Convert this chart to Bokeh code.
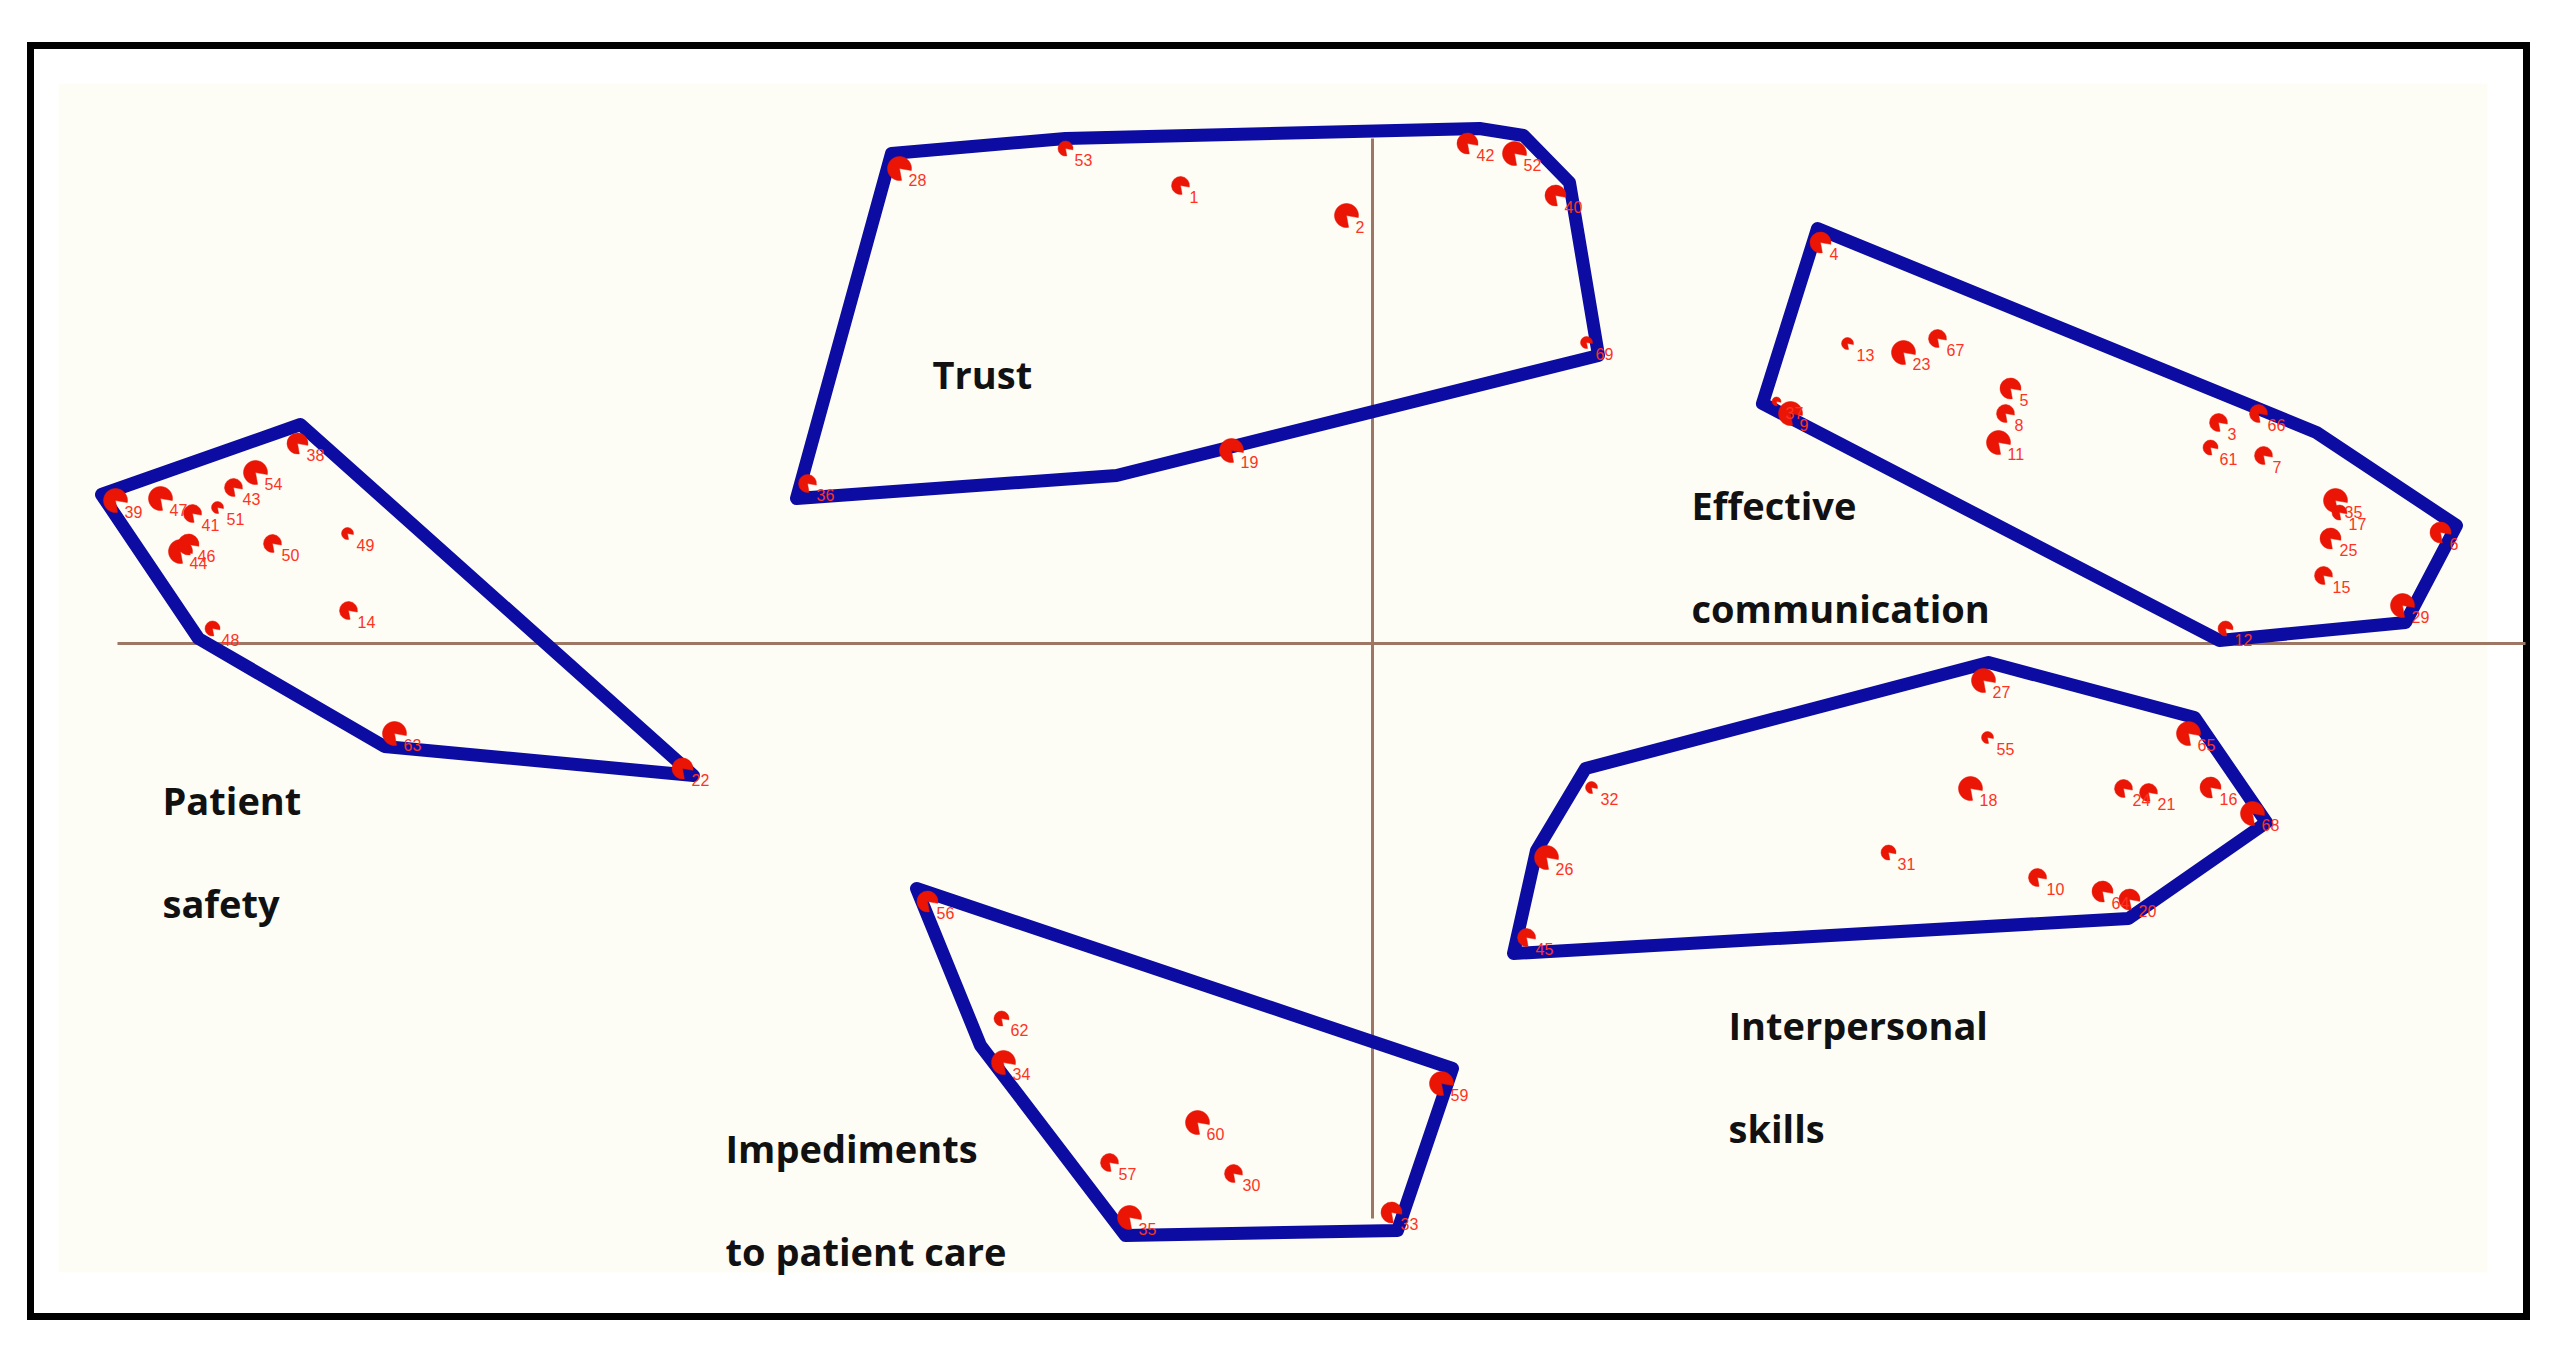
import math
from bokeh.plotting import figure
from bokeh.models import ColumnDataSource, Range1d
from bokeh.core.properties import value
from bokeh.embed import file_html
from bokeh.resources import INLINE

# ---------------- DATA (two-dimensional concept map) ----------------
# Trust
trust_ids = ["28", "53", "1", "2", "42", "52", "40", "69", "19", "36"]
trust_x = [-4.73, -3.07, -1.92, -0.26, 0.95, 1.42, 1.83, 2.14, -1.41, -5.65]
trust_y = [4.75, 4.95, 4.58, 4.28, 5.00, 4.90, 4.48, 3.01, 1.93, 1.60]
trust_w = [5, 2, 3, 5, 4, 5, 4, 1, 5, 3]
trust_hull_x = [-4.81, -3.07, 1.07, 1.51, 1.97, 2.26, -2.56, -5.76]
trust_hull_y = [4.90, 5.05, 5.15, 5.08, 4.61, 2.88, 1.68, 1.45]

# Patient safety
safety_ids = ["39", "47", "41", "51", "43", "54", "44", "46", "50", "49", "14", "48", "38", "63", "22"]
safety_x = [-12.57, -12.12, -11.80, -11.55, -11.39, -11.17, -11.92, -11.84, -11.00, -10.25, -10.24, -11.60, -10.75, -9.78, -6.90]
safety_y = [1.43, 1.45, 1.30, 1.36, 1.56, 1.71, 0.92, 0.99, 1.00, 1.10, 0.33, 0.15, 2.00, -0.90, -1.25]
safety_w = [5, 5, 3, 1, 3, 5, 5, 4, 3, 1, 3, 2, 4, 5, 4]
safety_hull_x = [-10.72, -12.71, -11.74, -9.88, -6.79]
safety_hull_y = [2.19, 1.49, 0.05, -1.03, -1.32]

# Effective communication
comm_ids = ["4", "13", "23", "67", "37", "9", "5", "8", "11", "3", "66", "61", "7", "35", "17", "25", "15", "6", "29", "12"]
comm_x = [4.48, 4.75, 5.31, 5.65, 4.04, 4.18, 6.38, 6.33, 6.26, 8.46, 8.86, 8.38, 8.91, 9.63, 9.67, 9.58, 9.51, 10.68, 10.30, 8.53]
comm_y = [4.01, 3.00, 2.91, 3.05, 2.42, 2.30, 2.55, 2.30, 2.01, 2.21, 2.30, 1.96, 1.88, 1.43, 1.31, 1.05, 0.68, 1.11, 0.38, 0.15]
comm_w = [4, 1, 5, 3, 0, 5, 4, 3, 5, 3, 3, 2, 3, 5, 2, 4, 3, 4, 5, 2]
comm_hull_x = [4.45, 3.90, 8.47, 10.33, 10.84, 9.44]
comm_hull_y = [4.15, 2.40, 0.03, 0.21, 1.18, 2.11]

# Interpersonal skills
inter_ids = ["27", "55", "65", "32", "18", "24", "21", "16", "68", "26", "31", "10", "64", "20", "45"]
inter_x = [6.11, 6.15, 8.16, 2.19, 5.98, 7.51, 7.76, 8.38, 8.80, 1.74, 5.16, 6.65, 7.30, 7.57, 1.54]
inter_y = [-0.37, -0.94, -0.90, -1.44, -1.45, -1.45, -1.49, -1.44, -1.70, -2.14, -2.09, -2.34, -2.48, -2.56, -2.94]
inter_w = [5, 1, 5, 1, 5, 3, 3, 4, 5, 5, 2, 3, 4, 4, 3]
inter_hull_x = [6.16, 8.22, 8.94, 7.56, 1.41, 1.64, 2.13]
inter_hull_y = [-0.19, -0.74, -1.79, -2.75, -3.10, -2.07, -1.25]

# Impediments to patient care
imped_ids = ["56", "62", "34", "60", "57", "30", "35", "33", "59"]
imped_x = [-4.45, -3.71, -3.69, -1.75, -2.63, -1.39, -2.43, 0.19, 0.69]
imped_y = [-2.58, -3.75, -4.19, -4.79, -5.19, -5.30, -5.74, -5.69, -4.40]
imped_w = [4, 2, 5, 5, 3, 3, 5, 4, 5]
imped_hull_x = [-4.56, 0.80, 0.25, -2.47, -3.92]
imped_hull_y = [-2.45, -4.25, -5.87, -5.92, -4.02]

# Cluster names (one entry per printed line)
name_text = ["Trust", "Patient", "safety", "Effective", "communication",
             "Interpersonal", "skills", "Impediments", "to patient care"]
name_x = [-4.40, -12.10, -12.10, 3.19, 3.19, 3.56, 3.56, -6.47, -6.47]
name_y = [2.70, -1.56, -2.59, 1.39, 0.36, -3.81, -4.84, -5.04, -6.07]

# Dimension axes extents
haxis_x = [-12.55, 11.53]
vaxis_y = [-5.75, 5.05]

# ---------------- LAYOUT ----------------
W, H = 2543, 1343
PX = 100.0                 # pixels per unit
OX, OY = 1372, 643         # canvas pixel of the origin


def cx(px):
    return (px - OX) / PX


def cy(py):
    return (OY - py) / PX


p = figure(width=W, height=H, output_backend="svg", toolbar_location=None,
           x_range=Range1d(cx(0), cx(W)), y_range=Range1d(cy(H), cy(0)),
           x_axis_type=None, y_axis_type=None,
           min_border=0, min_border_left=0, min_border_right=0,
           min_border_top=0, min_border_bottom=0)
p.grid.visible = False
p.outline_line_color = None
p.background_fill_color = "white"
p.border_fill_color = "white"

# cream panel
p.quad(left=[cx(58)], right=[cx(2487)], top=[cy(83)], bottom=[cy(1272)],
       fill_color="#fdfdf5", line_color=None)
# frame
p.quad(left=[cx(30)], right=[cx(2526)], top=[cy(45)], bottom=[cy(1316)],
       fill_color=None, line_color="black", line_width=7, line_join="miter")

# axes
brown = "#9e7664"
p.segment(x0=[haxis_x[0]], y0=[0], x1=[haxis_x[1]], y1=[0], line_color=brown, line_width=3)
p.segment(x0=[0], y0=[vaxis_y[0]], x1=[0], y1=[vaxis_y[1]], line_color=brown, line_width=3)

# hulls
hx = [trust_hull_x, safety_hull_x, comm_hull_x, inter_hull_x, imped_hull_x]
hy = [trust_hull_y, safety_hull_y, comm_hull_y, inter_hull_y, imped_hull_y]
p.patches(xs=hx, ys=hy, fill_color=None, line_color="#0c0ca2", line_width=13,
          line_join="round")

# points
ids = trust_ids + safety_ids + comm_ids + inter_ids + imped_ids
xs = trust_x + safety_x + comm_x + inter_x + imped_x
ys = trust_y + safety_y + comm_y + inter_y + imped_y
ws = trust_w + safety_w + comm_w + inter_w + imped_w
rs = [4.5 + 1.5 * w for w in ws]
src = ColumnDataSource(dict(x=xs, y=ys, r=rs, label=ids))

p.wedge(x="x", y="y", radius="r", radius_units="screen", source=src,
        start_angle=math.radians(-10), end_angle=math.radians(280),
        direction="anticlock", fill_color="#ea1505", line_color="#ea1505", line_width=0.5)

p.text(x="x", y="y", text="label", source=src, x_offset=9, y_offset=11,
       text_font=value("Liberation Sans"), text_font_size="16px",
       text_color="#ff3322", text_align="left", text_baseline="middle")

# cluster names
nsrc = ColumnDataSource(dict(x=name_x, y=name_y, t=name_text))
p.text(x="x", y="y", text="t", source=nsrc, text_font=value("Open Sans"),
       text_font_style="bold", text_font_size="38px", text_color="#111111",
       text_align="left", text_baseline="alphabetic")

open("out.html", "w").write(file_html(p, INLINE))
